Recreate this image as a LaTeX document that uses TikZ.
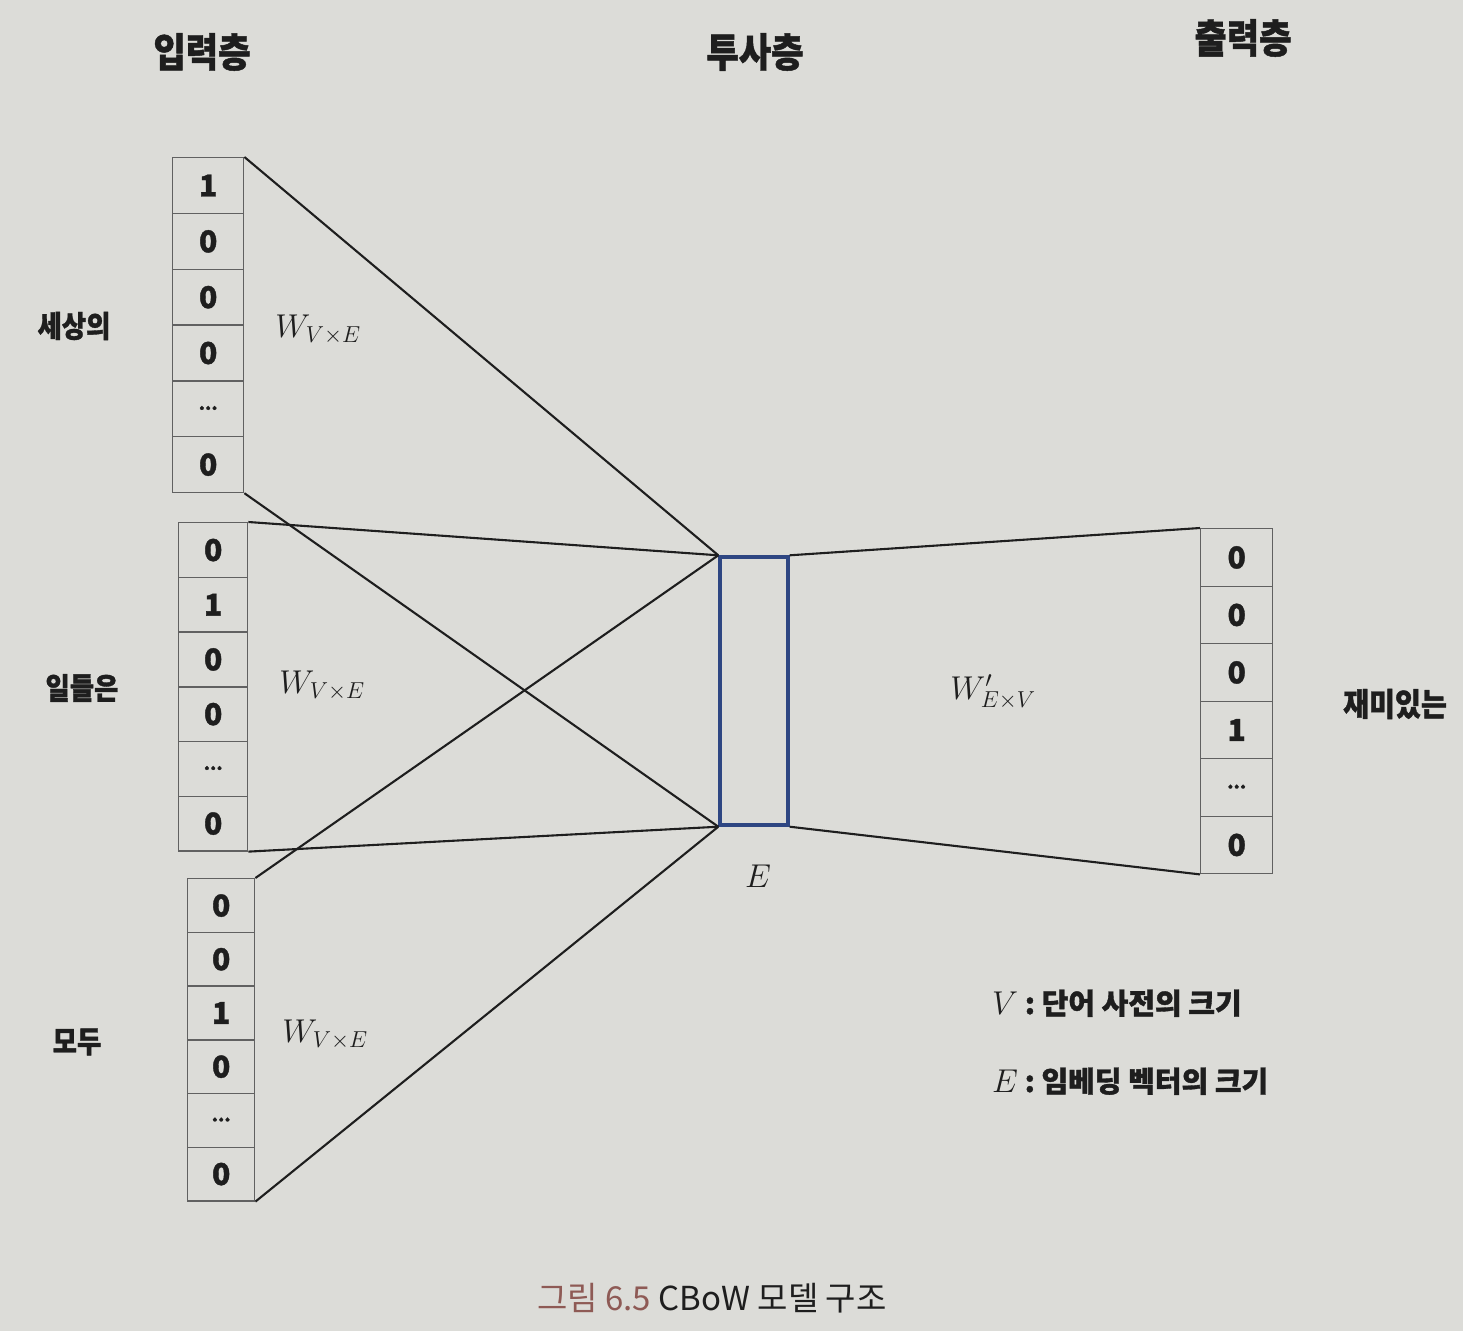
\RequirePackage{fix-cm}
\documentclass[tikz,border=0pt]{standalone}
\usepackage{fontspec}
\newfontfamily\kr{Noto Sans CJK KR}
\newfontfamily\krh[BoldFeatures={FakeBold=1.2}]{Noto Sans CJK KR}
\definecolor{paper}{HTML}{DCDCD8}
\definecolor{boxblue}{HTML}{2E4682}
\definecolor{capred}{HTML}{8E5A55}
\definecolor{ink}{HTML}{1E1E1E}
\newcommand{\dd}{{\fontsize{18}{18}\selectfont\raisebox{2pt}{...}}}
\newcommand{\cond}[1]{\scalebox{0.88}[1]{#1}}
\tikzset{
  cell/.style={draw=ink!70, line width=1.4pt, inner sep=0pt, anchor=north west,
    font=\krh\bfseries\fontsize{30}{30}\selectfont, text=ink},
  conn/.style={draw=ink, line width=2.1pt},
  layerlabel/.style={font=\krh\bfseries\fontsize{40}{40}\selectfont, text=ink, inner sep=0pt},
  wordlabel/.style={font=\krh\bfseries\fontsize{30}{30}\selectfont, text=ink, inner sep=0pt},
  wlabel/.style={font=\fontsize{33}{33}\selectfont, text=ink, inner sep=0pt},
  legend/.style={font=\krh\bfseries\fontsize{29}{29}\selectfont, text=ink, inner sep=0pt, anchor=base west},
}
\begin{document}
\begin{tikzpicture}[x=1pt,y=-1pt]
\fill[paper] (0,0) rectangle (1463,1331);
\useasboundingbox (0,0) rectangle (1463,1331);

% layer titles
\node[layerlabel] (tin) at (202,52) {\cond{입력층}};
\node[layerlabel] (tproj) at (755,52) {\cond{투사층}};
\node[layerlabel] (tout) at (1243,38) {\cond{출력층}};

% input vectors
\foreach \v [count=\i] in {1,0,0,0,\dd,0}
  \node[cell, minimum width=71pt, minimum height=55.8pt] (a\i) at (172,{157+(\i-1)*55.8}) {\v};
\foreach \v [count=\i] in {0,1,0,0,\dd,0}
  \node[cell, minimum width=69pt, minimum height=54.7pt] (b\i) at (178,{522+(\i-1)*54.7}) {\v};
\foreach \v [count=\i] in {0,0,1,0,\dd,0}
  \node[cell, minimum width=67pt, minimum height=53.7pt] (c\i) at (187,{878+(\i-1)*53.7}) {\v};
% output vector
\foreach \v [count=\i] in {0,0,0,1,\dd,0}
  \node[cell, minimum width=72pt, minimum height=57.5pt] (d\i) at (1200,{528+(\i-1)*57.5}) {\v};

% projection layer
\node[draw=boxblue, line width=3.4pt, minimum width=68pt, minimum height=268pt, inner sep=0pt] (proj) at (754,691) {};

% connectors
\draw[conn] (a1.north east) -- (proj.north west);
\draw[conn] (a6.south east) -- (proj.south west);
\draw[conn] (b1.north east) -- (proj.north west);
\draw[conn] (b6.south east) -- (proj.south west);
\draw[conn] (c1.north east) -- (proj.north west);
\draw[conn] (c6.south east) -- (proj.south west);
\draw[conn] (proj.north east) -- (d1.north west);
\draw[conn] (proj.south east) -- (d6.south west);

% word labels
\node[wordlabel] (w1) at (74,326) {\cond{세상의}};
\node[wordlabel] (w2) at (82,688) {\cond{일들은}};
\node[wordlabel] (w3) at (77,1042) {\cond{모두}};
\node[wordlabel, font=\krh\bfseries\fontsize{32}{32}\selectfont] (w4) at (1395,704) {\cond{재미있는}};

% weight labels
\node[wlabel] (m1) at (318,330) {$W_{V\times E}$};
\node[wlabel] (m2) at (322,686) {$W_{V\times E}$};
\node[wlabel] (m3) at (325,1035) {$W_{V\times E}$};
\node[wlabel] (m4) at (993,692) {$W'_{E\times V}$};
\node[wlabel] (ee) at (758,876) {$E$};

% legend
\node[legend] (l1) at (992,1014) {{\fontsize{33}{33}\selectfont$V$}\ :\ 단어 사전의 크기};
\node[legend] (l2) at (992,1092) {{\fontsize{33}{33}\selectfont$E$}\ :\ 임베딩 벡터의 크기};

% caption
\node[font=\kr\fontsize{33}{33}\selectfont, inner sep=0pt] (cap) at (712,1298)
  {\textcolor{capred}{그림 6.5} \textcolor{ink}{CBoW 모델 구조}};
\end{tikzpicture}
\end{document}
